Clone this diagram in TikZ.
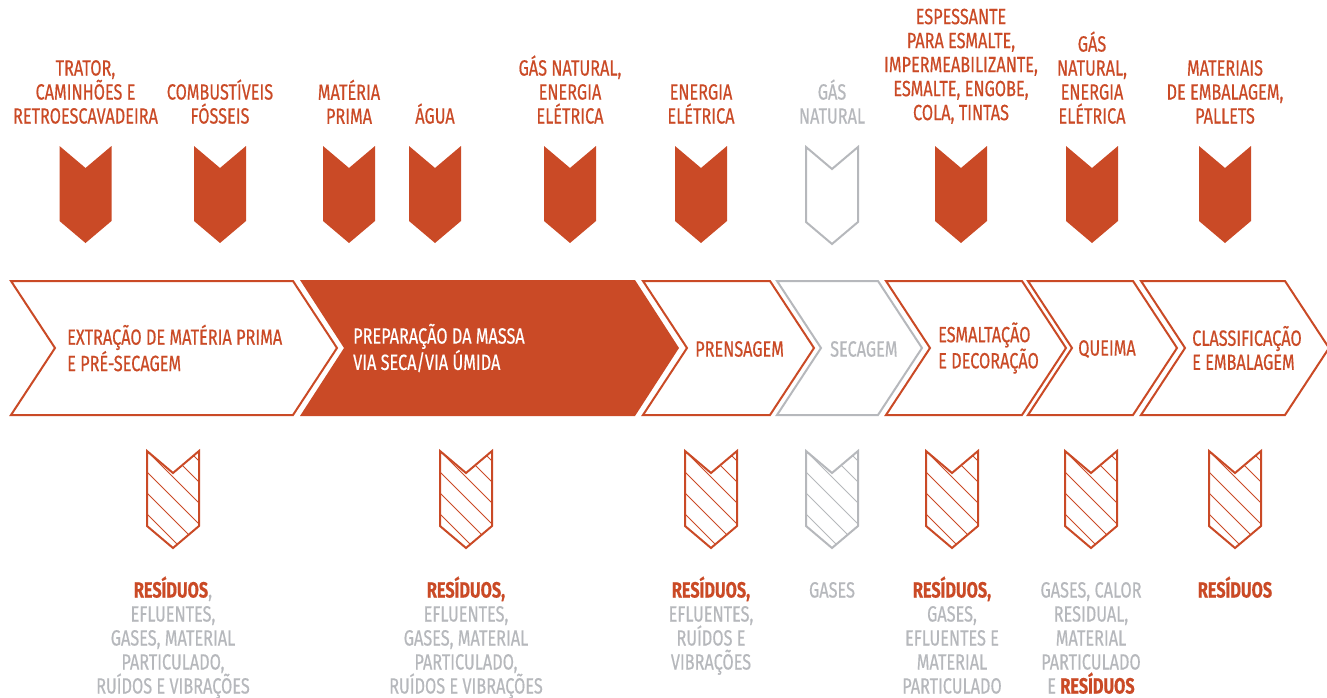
\documentclass[tikz,border=0pt]{standalone}
\usepackage{fontspec}
\setmainfont{Fira Sans}[FakeStretch=0.74,FakeBold=0.5]
\usetikzlibrary{positioning}
\definecolor{brick}{RGB}{202,74,38}
\definecolor{ash}{RGB}{182,184,188}
\tikzset{%
  lbl/.style={font=\fontsize{22bp}{24bp}\selectfont,align=center,inner sep=0pt},
  inp/.style={lbl,color=brick,anchor=south},
  outp/.style={lbl,color=ash,anchor=base},
  stage/.style={lbl,align=left,anchor=west},
  edge/.style={line width=2bp},
  hatch/.style={line width=1bp}
}
\newcommand{\res}[1]{\textcolor{brick}{\bfseries #1}}
\newcommand{\chevpath}[2]{(#1-26,#2) -- (#1,#2+22) -- (#1+26,#2) -- (#1+26,#2+75) -- (#1,#2+97) -- (#1-26,#2+75) -- cycle}

\begin{document}
\begin{tikzpicture}[x=1bp,y=-1bp]
  \useasboundingbox (0,0) rectangle (1327,697);

  % inputs
  \node[inp] (i1) at (85.5,124) {TRATOR,\\CAMINHÕES E\\RETROESCAVADEIRA};
  \node[inp] (i2) at (220,124) {COMBUSTÍVEIS\\FÓSSEIS};
  \node[inp] (i3) at (349,124) {MATÉRIA\\PRIMA};
  \node[inp] (i4) at (435,124) {ÁGUA};
  \node[inp] (i5) at (570,124) {GÁS NATURAL,\\ENERGIA\\ELÉTRICA};
  \node[inp] (i6) at (701,124) {ENERGIA\\ELÉTRICA};
  \node[inp,ash] (i7) at (832,124) {GÁS\\NATURAL};
  \node[inp] (i8) at (961,124) {ESPESSANTE\\PARA ESMALTE,\\IMPERMEABILIZANTE,\\ESMALTE, ENGOBE,\\COLA, TINTAS};
  \node[inp] (i9) at (1092,124) {GÁS\\NATURAL,\\ENERGIA\\ELÉTRICA};
  \node[inp] (i10) at (1225,124) {MATERIAIS\\DE EMBALAGEM,\\PALLETS};

  \foreach \cx in {85.5,220,349,435,570,701,961,1092,1225}
    \fill[brick] \chevpath{\cx}{146};
  \draw[ash,edge] \chevpath{832}{147};

  % stages
  \foreach \l/\r/\col in {11/293/brick,643/770/brick,777/878/ash,886/1022/brick,1028/1133/brick,1141/1285/brick}
    \draw[\col,edge,fill=white] (\l,281) -- (\r,281) -- (\r+44,348) -- (\r,415) -- (\l,415) -- (\l+44,348) -- cycle;
  \fill[brick] (300,280) -- (635,280) -- (679,348) -- (635,416) -- (300,416) -- (344,348) -- cycle;

  \node[stage,brick] (s1) at (67,348) {EXTRAÇÃO DE MATÉRIA PRIMA\\E PRÉ-SECAGEM};
  \node[stage,white] (s2) at (353,348) {PREPARAÇÃO DA MASSA\\VIA SECA/VIA ÚMIDA};
  \node[stage,brick] (s3) at (695,349) {PRENSAGEM};
  \node[stage,ash] (s4) at (830,349) {SECAGEM};
  \node[stage,brick] (s5) at (938,348) {ESMALTAÇÃO\\E DECORAÇÃO};
  \node[stage,brick] (s6) at (1078,349) {QUEIMA};
  \node[stage,brick] (s7) at (1192,348) {CLASSIFICAÇÃO\\E EMBALAGEM};

  % outputs
  \foreach \cx/\col in {173/brick,466/brick,711/brick,832/ash,952/brick,1091/brick,1235/brick}{
    \begin{scope}
      \clip \chevpath{\cx}{451};
      \foreach \k in {-3,...,5}
        \draw[\col,hatch] (\cx-40,437+\k*21) -- ++(120,120);
    \end{scope}
    \draw[\col,edge] \chevpath{\cx}{451};
  }

  \node[outp] (o1) at (173,693.5) {\res{RESÍDUOS},\\EFLUENTES,\\GASES, MATERIAL\\PARTICULADO,\\RUÍDOS E VIBRAÇÕES};
  \node[outp] (o2) at (466,693.5) {\res{RESÍDUOS,}\\EFLUENTES,\\GASES, MATERIAL\\PARTICULADO,\\RUÍDOS E VIBRAÇÕES};
  \node[outp] (o3) at (711,669.5) {\res{RESÍDUOS,}\\EFLUENTES,\\RUÍDOS E\\VIBRAÇÕES};
  \node[outp] (o4) at (832,597.5) {GASES};
  \node[outp] (o5) at (952,693.5) {\res{RESÍDUOS,}\\GASES,\\EFLUENTES E\\MATERIAL\\PARTICULADO};
  \node[outp] (o6) at (1091,693.5) {GASES, CALOR\\RESIDUAL,\\MATERIAL\\PARTICULADO\\E \res{RESÍDUOS}};
  \node[outp] (o7) at (1235,597.5) {\res{RESÍDUOS}};
\end{tikzpicture}
\end{document}
